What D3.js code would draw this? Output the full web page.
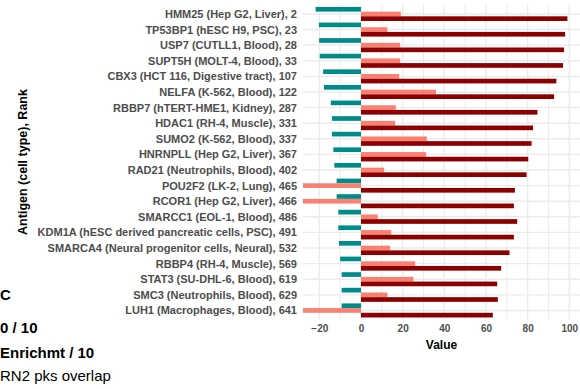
<!DOCTYPE html>
<html>
<head>
<meta charset="utf-8">
<script src="https://cdn.jsdelivr.net/npm/d3@7"></script>
<style>
  body { margin: 0; background: #fff; }
  svg { display: block; font-family: "Liberation Sans", Arial, sans-serif; }
</style>
</head>
<body>
<figure id="bars" style="margin:0"></figure>
<script>
// rows, top to bottom
const labels = [
  "HMM25 (Hep G2, Liver), 2",
  "TP53BP1 (hESC H9, PSC), 23",
  "USP7 (CUTLL1, Blood), 28",
  "SUPT5H (MOLT-4, Blood), 33",
  "CBX3 (HCT 116, Digestive tract), 107",
  "NELFA (K-562, Blood), 122",
  "RBBP7 (hTERT-HME1, Kidney), 287",
  "HDAC1 (RH-4, Muscle), 331",
  "SUMO2 (K-562, Blood), 337",
  "HNRNPLL (Hep G2, Liver), 367",
  "RAD21 (Neutrophils, Blood), 402",
  "POU2F2 (LK-2, Lung), 465",
  "RCOR1 (Hep G2, Liver), 466",
  "SMARCC1 (EOL-1, Blood), 486",
  "KDM1A (hESC derived pancreatic cells, PSC), 491",
  "SMARCA4 (Neural progenitor cells, Neural), 532",
  "RBBP4 (RH-4, Muscle), 569",
  "STAT3 (SU-DHL-6, Blood), 619",
  "SMC3 (Neutrophils, Blood), 629",
  "LUH1 (Macrophages, Blood), 641"
];
const tealValues    = [-21.8, -20.2, -20.1, -19.8, -18.2, -17.8, -14.5, -14.0, -14.0, -13.3,
                       -12.8, -11.7, -11.7, -10.9, -10.9, -10.6, -10.0, -9.3, -9.3, -9.3];
const salmonValues  = [19.1, 12.7, 18.8, 18.8, 18.3, 36.0, 16.7, 16.4, 31.6, 31.3,
                       11.1, -30, -30, 8.0, 14.5, 14.0, 26.0, 25.2, 12.7, -30];
const darkredValues = [99.1, 98.0, 97.5, 97.0, 93.8, 92.7, 84.7, 82.6, 81.9, 80.3,
                       79.5, 73.9, 73.4, 75.0, 73.4, 71.3, 67.3, 65.4, 65.7, 63.3];
const xTicks = [-20, 0, 20, 40, 60, 80, 100];
const xMinor = [-10, 10, 30, 50, 70, 90];
// legend, only the part that shows inside the picture
const legendTexts = ["C", "0 / 10", "Enrichmt / 10", "RN2 pks overlap"];

const W = 580, H = 389;
const panel = { left: 303, right: 580, top: 4.6, bottom: 319.8 };
const series = [
  { key: "teal", values: tealValues, color: "#008b8b" },
  { key: "salmon", values: salmonValues, color: "#fa8072" },
  { key: "darkred", values: darkredValues, color: "#8b0000" }
];

const svg = d3.select("figure#bars").append("svg")
  .attr("width", W).attr("height", H);

// x limits: extent of teal/darkred, expanded 5% like ggplot
const ext = d3.extent(tealValues.concat(darkredValues));
const pad = (ext[1] - ext[0]) * 0.05;
const x = d3.scaleLinear().domain([ext[0] - pad, ext[1] + pad])
  .range([panel.left, panel.right]);
const y = d3.scalePoint().domain(labels)
  .range([panel.top, panel.bottom]).padding(0.6);
const step = y.step();
const sub = d3.scaleBand().domain(series.map(s => s.key))
  .range([-0.45 * step, 0.45 * step]);

svg.append("clipPath").attr("id", "clip").append("rect")
  .attr("x", panel.left).attr("y", panel.top)
  .attr("width", panel.right - panel.left).attr("height", panel.bottom - panel.top);

// grid
const grid = svg.append("g").attr("clip-path", "url(#clip)");
grid.selectAll("line.minor").data(xMinor).join("line")
  .attr("x1", d => x(d)).attr("x2", d => x(d))
  .attr("y1", panel.top).attr("y2", panel.bottom)
  .attr("stroke", "#ebebeb").attr("stroke-width", 1);
grid.selectAll("line.major").data(xTicks).join("line")
  .attr("x1", d => x(d)).attr("x2", d => x(d))
  .attr("y1", panel.top).attr("y2", panel.bottom)
  .attr("stroke", "#ebebeb").attr("stroke-width", 1.4);
grid.selectAll("line.hy").data(labels).join("line")
  .attr("x1", panel.left).attr("x2", panel.right)
  .attr("y1", d => y(d)).attr("y2", d => y(d))
  .attr("stroke", "#ebebeb").attr("stroke-width", 1.4);

// bars
const bars = svg.append("g").attr("clip-path", "url(#clip)");
series.forEach(s => {
  bars.append("g").attr("fill", s.color)
    .selectAll("rect")
    .data(labels.map((l, i) => ({ label: l, v: s.values[i] })))
    .join("rect")
    .attr("x", d => x(Math.min(0, d.v)))
    .attr("width", d => Math.abs(x(d.v) - x(0)))
    .attr("y", d => y(d.label) + sub(s.key))
    .attr("height", sub.bandwidth());
});

// axes
const yAxis = svg.append("g")
  .attr("transform", `translate(${panel.left},0)`)
  .call(d3.axisLeft(y).tickSize(0).tickPadding(6));
yAxis.select(".domain").remove();
yAxis.selectAll("text").attr("fill", "#4d4d4d")
  .style("font-size", "11px").style("font-weight", "bold");

const xAxis = svg.append("g")
  .attr("transform", `translate(0,${panel.bottom})`)
  .call(d3.axisBottom(x).tickValues(xTicks).tickSize(0).tickPadding(5));
xAxis.select(".domain").remove();
xAxis.selectAll("text").attr("fill", "#4d4d4d")
  .style("font-size", "10px").style("font-weight", "bold");

svg.append("text")
  .attr("x", (panel.left + panel.right) / 2).attr("y", 349)
  .attr("text-anchor", "middle")
  .style("font-size", "12px").style("font-weight", "bold")
  .text("Value");

svg.append("text")
  .attr("transform", "translate(27,162) rotate(-90)")
  .attr("text-anchor", "middle")
  .style("font-size", "12.5px").style("font-weight", "bold")
  .text("Antigen (cell type), Rank");

// legend labels
const legendBase = [300, 333, 358, 381];
legendTexts.forEach((t, i) => {
  svg.append("text")
    .attr("x", 0).attr("y", legendBase[i])
    .style("font-size", "15px")
    .style("font-weight", i < 3 ? "bold" : "normal")
    .text(t);
});
</script>
</body>
</html>
